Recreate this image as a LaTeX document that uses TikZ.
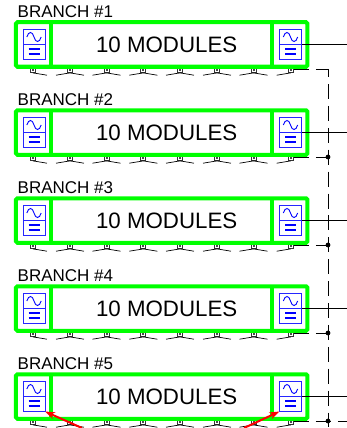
\documentclass[tikz,border=0pt]{standalone}
\usepackage{fontspec}
\setmainfont{Liberation Sans}
\usetikzlibrary{arrows.meta,calc}
\tikzset{
  x=1pt,y=-1pt,
  framebox/.style={draw=green,line width=4pt,rounded corners=1.5pt,rectangle,minimum width=291.5pt,minimum height=44.5pt,inner sep=0pt,outer sep=0pt},
  divider/.style={draw=green,line width=3.6pt},
  conv/.style={draw=blue!85!white,line width=.8pt,rectangle,minimum width=22pt,minimum height=30pt,inner sep=0pt,outer sep=0pt},
  convline/.style={draw=blue!85!white,line width=.8pt},
  sinewave/.style={draw=blue,line width=.9pt},
  bar/.style={draw=blue,line width=1.8pt},
  branchlabel/.style={font=\fontsize{17pt}{18pt}\selectfont,anchor=base west,inner sep=0pt},
  modlabel/.style={font=\fontsize{22.3pt}{23pt}\selectfont,inner sep=0pt},
  module/.style={draw=black!80,fill=white,line width=.8pt,rectangle,minimum size=5pt,inner sep=0pt},
  wing/.style={draw=black,line width=.7pt},
  feeder/.style={draw=black,line width=.8pt},
  bus/.style={draw=black,line width=.9pt,dash pattern=on 15pt off 6.9pt},
  junction/.style={circle,fill=black,inner sep=0pt,minimum size=4.8pt},
  fault/.style={draw=red,line width=2pt,-{Stealth[length=10pt,width=7pt]}}
}
\newcommand{\sinesym}[1]{%
  \begin{scope}[shift={(#1.center)}]
  \draw[sinewave] (-7.2,-7.5) .. controls (-5.5,-13.5) and (-1.5,-13.5) .. (0,-7.5) .. controls (1.5,-1.5) and (5.5,-1.5) .. (7.2,-7.5);
  \draw[bar] (-5.5,4.7) -- (5.5,4.7);
  \draw[bar] (-5.5,9.7) -- (5.5,9.7);
  \end{scope}
}
\begin{document}
\begin{tikzpicture}
\clip (0,0) rectangle (347,428);
\fill[white] (0,0) rectangle (347,428);
\foreach \n/\off in {1/0,2/88,3/176,4/264,5/352}{
  % string of modules under the frame
  \foreach \m/\x in {1/33,2/70,3/106.5,4/143.3,5/180,6/217,7/253.5,8/290.7}{
    \node[module] (m\n-\m) at (\x,70+\off) {};
    \fill[black!70] (m\n-\m.center) ++(-1,-1) rectangle ++(2,2);
    \ifnum\m>1 \draw[wing] (m\n-\m.south) -- ++(-14,2.3); \fi
    \ifnum\m<8 \draw[wing] (m\n-\m.south) -- ++(14,2.3); \fi
  }
  \node[framebox] (f\n) at (161.7,44.5+\off) {};
  \coordinate (d\n a) at (51,22+\off);
  \coordinate (d\n b) at (51,66.5+\off);
  \coordinate (e\n a) at (272,22+\off);
  \coordinate (e\n b) at (272,66.5+\off);
  \draw[divider] (d\n a) -- (d\n b);
  \draw[divider] (e\n a) -- (e\n b);
  \node[branchlabel] (lab\n) at (17.5,17.5+\off) {BRANCH \#\n};
  \node[modlabel] (mid\n) at (166.7,45+\off) {10 MODULES};
  \node[conv] (l\n) at (34,44.5+\off) {};
  \node[conv] (r\n) at (290.5,44.5+\off) {};
  \draw[convline] (l\n.west) -- (l\n.east);
  \draw[convline] (r\n.west) -- (r\n.east);
  \sinesym{l\n}
  \sinesym{r\n}
  \coordinate (out\n) at (347,44.5+\off);
  \draw[feeder] (r\n.east) -- (out\n);
}
% dashed bus
\coordinate (top) at (328,69);
\coordinate (busbot) at (328,427);
\foreach \n/\off in {2/88,3/176,4/264,5/352}{
  \node[junction] (j\n) at (328,69+\off) {};
}
\draw[bus,dash phase=6.9pt] (top) -- (busbot);
\coordinate (s1) at (294,69);
\draw[bus] (s1) -- (top);
\foreach \n/\off in {2/88,3/176,4/264,5/352}{
  \coordinate (s\n) at (294,69+\off);
  \draw[bus] (s\n) -- (j\n.center);
}
\coordinate (busend) at (347,421);
\draw[bus] (s5) -- (busend);
% fault arrows
\coordinate (fa) at (82,428);
\coordinate (fb) at (244,428);
\draw[fault] (fa) -- (l5.south east);
\draw[fault] (fb) -- (r5.south west);
\end{tikzpicture}
\end{document}
